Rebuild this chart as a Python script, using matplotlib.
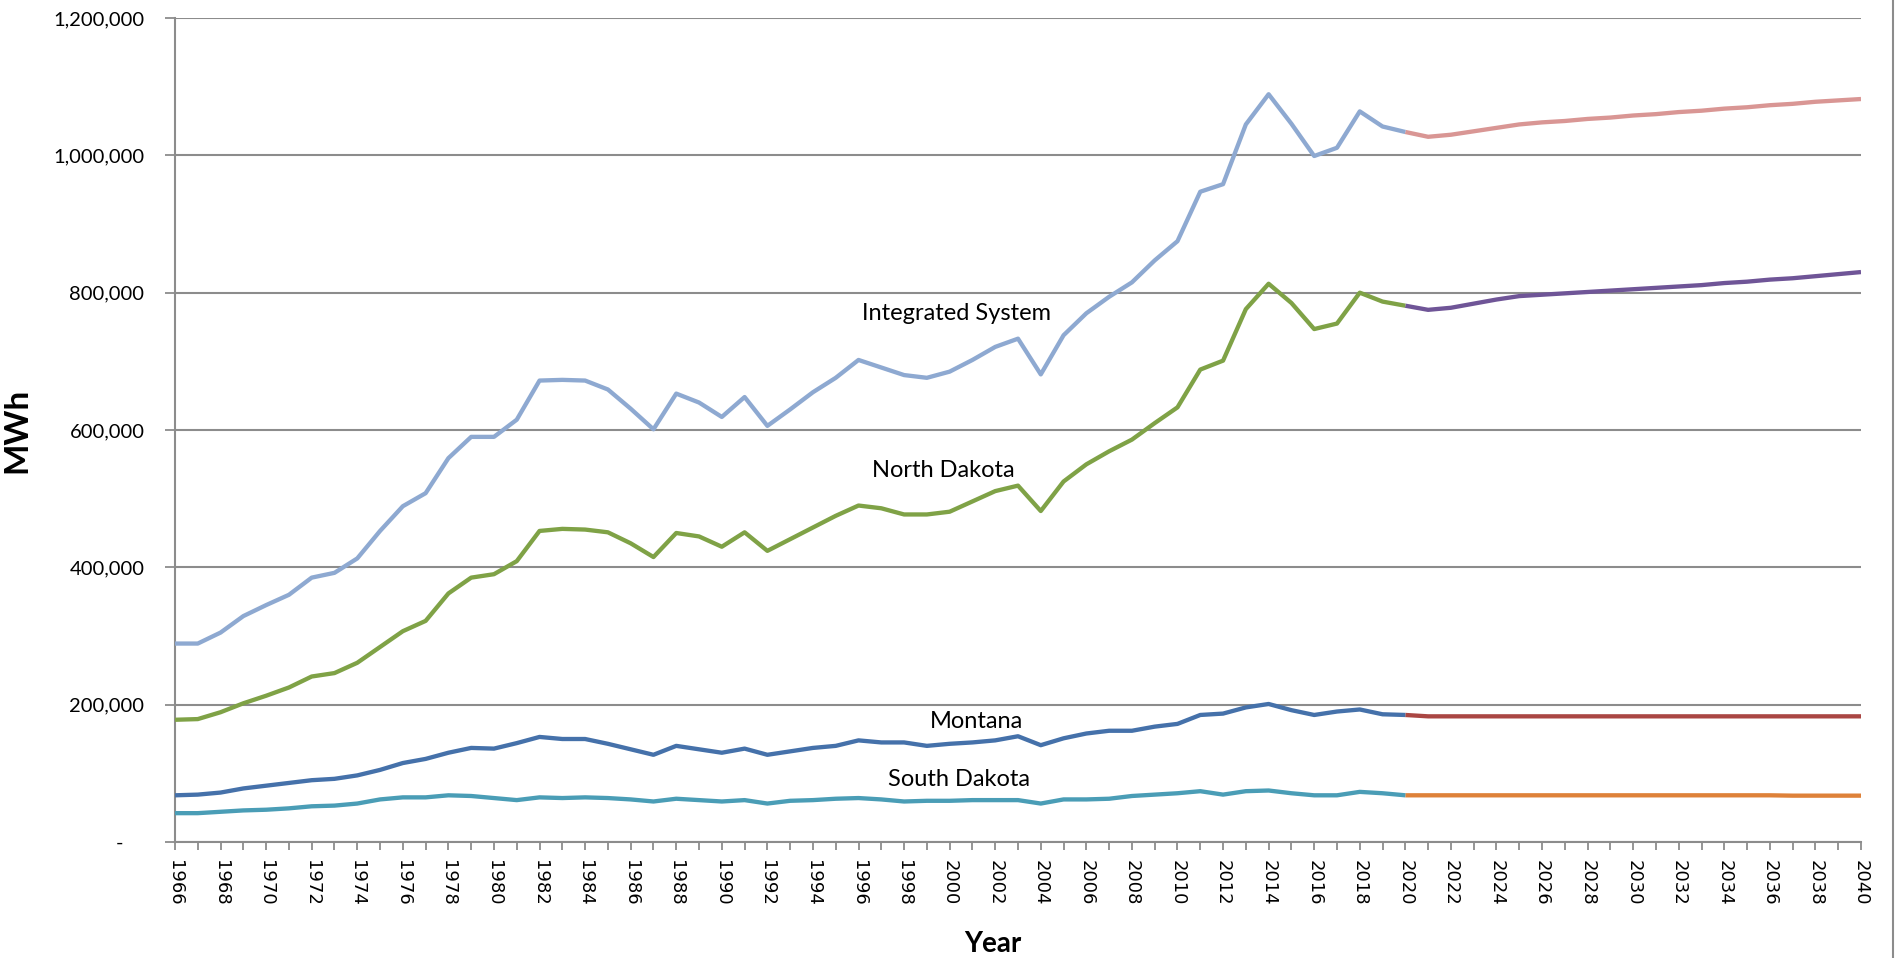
import matplotlib
matplotlib.use("Agg")
import matplotlib.pyplot as plt
from matplotlib.lines import Line2D
from matplotlib.ticker import FuncFormatter, MultipleLocator

# --- data (MWh) ---
hist_years = list(range(1966, 2021))
fcst_years = list(range(2020, 2041))

integrated = [289000, 289000, 305000, 329000, 345000, 360000, 385000, 392000, 413000, 453000,
              489000, 508000, 559000, 590000, 590000, 615000, 672000, 673000, 672000, 659000,
              631000, 601000, 653000, 640000, 619000, 648000, 606000, 630000, 655000, 676000,
              702000, 691000, 680000, 676000, 685000, 702000, 721000, 733000, 681000, 738000,
              770000, 794000, 815000, 847000, 875000, 947000, 958000, 1045000, 1089000, 1046000,
              999000, 1011000, 1064000, 1042000, 1034000]
integrated_fcst = [1034000, 1027000, 1030000, 1035000, 1040000, 1045000, 1048000, 1050000, 1053000,
                   1055000, 1058000, 1060000, 1063000, 1065000, 1068000, 1070000, 1073000, 1075000,
                   1078000, 1080000, 1082000]

north_dakota = [178000, 179000, 189000, 202000, 213000, 225000, 241000, 246000, 261000, 284000,
                307000, 322000, 362000, 385000, 390000, 409000, 453000, 456000, 455000, 451000,
                435000, 415000, 450000, 445000, 430000, 451000, 424000, 441000, 458000, 475000,
                490000, 486000, 477000, 477000, 481000, 496000, 511000, 519000, 482000, 525000,
                550000, 569000, 586000, 610000, 633000, 688000, 701000, 776000, 813000, 785000,
                747000, 755000, 800000, 787000, 781000]
north_dakota_fcst = [781000, 775000, 778000, 784000, 790000, 795000, 797000, 799000, 801000,
                     803000, 805000, 807000, 809000, 811000, 814000, 816000, 819000, 821000,
                     824000, 827000, 830000]

montana = [68000, 69000, 72000, 78000, 82000, 86000, 90000, 92000, 97000, 105000,
           115000, 121000, 130000, 137000, 136000, 144000, 153000, 150000, 150000, 143000,
           135000, 127000, 140000, 135000, 130000, 136000, 127000, 132000, 137000, 140000,
           148000, 145000, 145000, 140000, 143000, 145000, 148000, 154000, 141000, 151000,
           158000, 162000, 162000, 168000, 172000, 185000, 187000, 196000, 201000, 192000,
           185000, 190000, 193000, 186000, 185000]
montana_fcst = [185000, 183000, 183000, 183000, 183000, 183000, 183000, 183000, 183000,
                183000, 183000, 183000, 183000, 183000, 183000, 183000, 183000, 183000,
                183000, 183000, 183000]

south_dakota = [42000, 42000, 44000, 46000, 47000, 49000, 52000, 53000, 56000, 62000,
                65000, 65000, 68000, 67000, 64000, 61000, 65000, 64000, 65000, 64000,
                62000, 59000, 63000, 61000, 59000, 61000, 56000, 60000, 61000, 63000,
                64000, 62000, 59000, 60000, 60000, 61000, 61000, 61000, 56000, 62000,
                62000, 63000, 67000, 69000, 71000, 74000, 69000, 74000, 75000, 71000,
                68000, 68000, 73000, 71000, 68000]
south_dakota_fcst = [68000, 68000, 68000, 68000, 68000, 68000, 68000, 68000, 68000,
                     68000, 68000, 68000, 68000, 68000, 68000, 68000, 68000, 67500,
                     67500, 67500, 67500]

labels = ['Integrated System', 'North Dakota', 'Montana', 'South Dakota']
label_pos = [(2000.3, 770000), (1999.7, 541000), (2001.2, 175000), (2000.4, 91000)]

# Excel 2007 palette look
C_INT, C_INT_F = '#8EA9D1', '#D99694'
C_ND, C_ND_F = '#7FA246', '#6F5597'
C_MT, C_MT_F = '#4571AA', '#AA4643'
C_SD, C_SD_F = '#4A9DB6', '#DE8139'
GRID = '#8C8C8C'

fig = plt.figure(figsize=(18.95, 9.58), dpi=100)
ax = fig.add_axes([175 / 1895, 1 - 842 / 958, (1861 - 175) / 1895, (842 - 18) / 958])

lw = 3.1
ax.plot(fcst_years, integrated_fcst, color=C_INT_F, lw=lw, solid_capstyle='butt', zorder=3)
ax.plot(fcst_years, north_dakota_fcst, color=C_ND_F, lw=lw, solid_capstyle='butt', zorder=3)
ax.plot(fcst_years, montana_fcst, color=C_MT_F, lw=lw, solid_capstyle='butt', zorder=3)
ax.plot(fcst_years, south_dakota_fcst, color=C_SD_F, lw=lw, solid_capstyle='butt', zorder=3)
ax.plot(hist_years, integrated, color=C_INT, lw=lw, solid_capstyle='butt', zorder=4)
ax.plot(hist_years, north_dakota, color=C_ND, lw=lw, solid_capstyle='butt', zorder=4)
ax.plot(hist_years, montana, color=C_MT, lw=lw, solid_capstyle='butt', zorder=4)
ax.plot(hist_years, south_dakota, color=C_SD, lw=lw, solid_capstyle='butt', zorder=4)

for txt, (x, y) in zip(labels, label_pos):
    ax.text(x, y, txt, ha='center', va='center', fontsize=17, family='Lato', color='black')

ax.set_xlim(1966, 2040)
ax.set_ylim(0, 1200000)
ax.yaxis.set_major_locator(MultipleLocator(200000))
ax.yaxis.set_major_formatter(FuncFormatter(lambda v, p: '-    ' if v == 0 else f'{v:,.0f}'))
ax.xaxis.set_major_locator(MultipleLocator(2))
ax.xaxis.set_minor_locator(MultipleLocator(1))
ax.xaxis.set_major_formatter(FuncFormatter(lambda v, p: f'{int(v)}'))

ax.grid(axis='y', color=GRID, lw=1.5, zorder=1)
ax.set_axisbelow(True)
for s in ['top', 'right']:
    ax.spines[s].set_visible(False)
for s in ['left', 'bottom']:
    ax.spines[s].set_color(GRID)
    ax.spines[s].set_linewidth(1.5)

ax.tick_params(axis='y', direction='out', length=7, width=1.3, color=GRID, pad=15, labelsize=14.5)
ax.tick_params(axis='x', which='both', direction='out', length=6, width=1.3, color=GRID, pad=7,
               labelsize=13, labelrotation=-90)
for t in ax.get_yticklabels():
    t.set_family('Lato')

ax.set_ylabel('MWh', fontsize=24, fontweight='bold', family='Lato')
ax.yaxis.set_label_coords(-0.085, 0.5)
ax.set_xlabel('Year', fontsize=20, fontweight='bold', family='Lato')
ax.xaxis.set_label_coords(0.485, -0.108)

# outer chart frame edge on the right
fig.add_artist(Line2D([1893 / 1895, 1893 / 1895], [0, 1], color=GRID, lw=1.5))

fig.savefig('out.png', dpi=100)
